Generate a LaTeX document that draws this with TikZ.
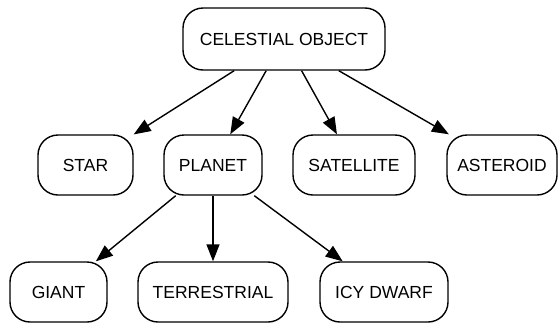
\documentclass[tikz,border=0pt]{standalone}
\usepackage{fontspec}
\setmainfont{Liberation Sans}
\usetikzlibrary{arrows.meta}

\begin{document}
\begin{tikzpicture}[
        x=1pt,y=-1pt,
        category/.style={rectangle,draw,rounded corners=20pt,line width=1.4pt,
            fill=white,minimum height=60pt,inner sep=0pt,
            font=\fontsize{17.5}{20}\selectfont},
        link/.style={line width=1.4pt,-{Triangle[length=17pt,width=13pt]}}
    ]

    \useasboundingbox (0,0) rectangle (559,327);

    \node[category,minimum width=202pt,minimum height=62pt] (celestial) at (284,39) {CELESTIAL OBJECT};

    \node[category,minimum width=95pt] (star) at (85.5,165) {STAR};
    \node[category,minimum width=98pt] (planet) at (213,165) {PLANET};
    \node[category,minimum width=122pt] (satellite) at (354,165) {SATELLITE};
    \node[category,minimum width=110pt] (asteroid) at (502,165) {ASTEROID};

    \node[category,minimum width=97pt] (giant) at (58.5,292) {GIANT};
    \node[category,minimum width=150pt] (terrestrial) at (213,292) {TERRESTRIAL};
    \node[category,minimum width=128pt] (icydwarf) at (384,292) {ICY DWARF};

    \draw[link] (celestial) -- (star);
    \draw[link] (celestial) -- (planet);
    \draw[link] (celestial) -- (satellite);
    \draw[link] (celestial) -- (asteroid);

    \draw[link] (planet) -- (giant);
    \draw[link] (planet) -- (terrestrial);
    \draw[link] (planet) -- (icydwarf);

    \end{tikzpicture}
\end{document}
